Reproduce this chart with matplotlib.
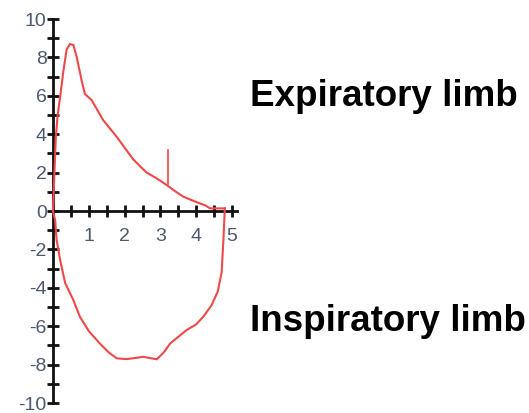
import matplotlib.pyplot as plt

# expiratory limb (volume, flow)
exp_x = [0.0, 0.04, 0.08, 0.13, 0.2, 0.29, 0.38, 0.47, 0.57, 0.66, 0.8, 0.89, 1.08, 1.4,
         1.78, 2.0, 2.24, 2.45, 2.62, 2.9, 3.18, 3.4, 3.64, 3.9, 4.1, 4.25, 4.39, 4.6, 4.8]
exp_y = [0.0, 2.0, 3.9, 5.0, 5.95, 7.3, 8.4, 8.7, 8.65, 8.04, 6.8, 6.1, 5.78, 4.74,
         3.87, 3.3, 2.7, 2.3, 2.0, 1.7, 1.35, 1.05, 0.75, 0.55, 0.4, 0.3, 0.14, 0.14, 0.14]

# inspiratory limb
insp_x = [0.0, 0.06, 0.1, 0.2, 0.34, 0.57, 0.75, 1.0, 1.31, 1.55, 1.78, 2.06, 2.3, 2.52,
          2.9, 3.1, 3.27, 3.5, 3.73, 4.0, 4.2, 4.43, 4.6, 4.71, 4.76, 4.8]
insp_y = [0.0, -0.47, -1.5, -2.55, -3.75, -4.64, -5.5, -6.25, -6.9, -7.35, -7.67, -7.71,
          -7.65, -7.59, -7.72, -7.35, -6.9, -6.55, -6.2, -5.9, -5.5, -4.9, -4.2, -3.2,
          -1.5, 0.14]

spike_x = [3.2, 3.2]
spike_y = [1.4, 3.2]

x_ticks = [0.5 * i for i in range(1, 11)]
x_labels = ['' if i % 2 else str(i // 2) for i in range(1, 11)]
y_ticks = list(range(-10, 11))
y_labels = [str(v) if v % 2 == 0 else '' for v in y_ticks]

plt.rcParams['font.family'] = ['Liberation Sans', 'DejaVu Sans']

fig = plt.figure(figsize=(5.29, 4.13), dpi=100)
W, H = 529, 413
ax = fig.add_axes([53 / W, (413 - 405) / H, 5.15 * 35.8 / W, 20.2 * 19.2 / H])
ax.set_xlim(0, 5.15)
ax.set_ylim(-10.1, 10.1)

red = '#f04848'
ax.plot(exp_x, exp_y, color=red, lw=1.5, clip_on=False, zorder=3)
ax.plot(insp_x, insp_y, color=red, lw=1.5, clip_on=False, zorder=3)
ax.plot(spike_x, spike_y, color=red, lw=1.2, clip_on=False, zorder=3)

for s in ['top', 'right']:
    ax.spines[s].set_visible(False)
ax.spines['left'].set_position(('data', 0))
ax.spines['bottom'].set_position(('data', 0))
ax.spines['left'].set_bounds(-10, 10)
ax.spines['bottom'].set_bounds(0, 5.15)
for s in ['left', 'bottom']:
    ax.spines[s].set_linewidth(2)
    ax.spines[s].set_color('#111111')

lab_color = '#4e5870'
ax.set_xticks(x_ticks)
ax.set_xticklabels(x_labels)
ax.set_yticks(y_ticks)
ax.set_yticklabels(y_labels)
ax.tick_params(axis='both', direction='inout', length=9, width=2, color='#111111',
               labelsize=14, labelcolor=lab_color)
ax.tick_params(axis='x', pad=8)
ax.tick_params(axis='y', pad=0)

fig.text(250 / W, 1 - 106 / H, 'Expiratory limb', fontsize=26.5, fontweight='bold',
         ha='left', va='baseline')
fig.text(250 / W, 1 - 331 / H, 'Inspiratory limb', fontsize=26.5, fontweight='bold',
         ha='left', va='baseline')

fig.savefig('out.png', dpi=100)
